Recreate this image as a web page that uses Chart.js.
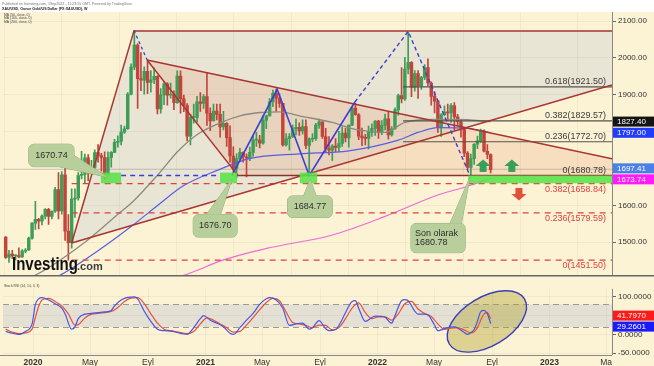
<!DOCTYPE html>
<html>
<head>
<meta charset="utf-8">
<title>XAU/USD haftalık</title>
<script src="https://cdn.jsdelivr.net/npm/chart.js@4.4.1/dist/chart.umd.min.js"></script>
<style>
  html, body { margin: 0; padding: 0; background: #fff; }
  #wrap { position: relative; width: 654px; height: 366px; overflow: hidden; }
  #wrap canvas { position: absolute; left: 0; }
  #main { top: 0; }
  #osc { top: 282px; }
</style>
</head>
<body>
<div id="wrap">
  <canvas id="main" width="654" height="282"></canvas>
  <canvas id="osc" width="654" height="84"></canvas>
</div>
<script>
// Weekly XAU/USD candles, first candle is the week of 2019-11-04
const firstWeek = '2019-11-04';
const opens = [1514,1459,1468,1463,1464,1460,1476,1479,1511,
  1552,1562,1557,1571,1589,1570,1584,1643,1585,1683,1530,1499,
  1617,1620,1681,1684,1729,1700,1703,1743,1735,1730,1685,1730,
  1744,1771,1774,1799,1808,1902,1975,2035,1944,1940,1964,1934,
  1941,1950,1862,1900,1930,1899,1902,1879,1951,1889,1871,1788,
  1839,1839,1881,1877,1895,1850,1829,1856,1847,1813,1823,1784,
  1734,1700,1727,1744,1732,1728,1744,1777,1777,1769,1831,1843,
  1881,1904,1891,1877,1764,1781,1787,1808,1812,1802,1814,1763,
  1780,1781,1818,1827,1787,1754,1750,1761,1757,1768,1796,1783,
  1818,1864,1846,1788,1783,1782,1798,1809,1829,1797,1817,1835,
  1791,1808,1859,1898,1889,1970,1988,1921,1958,1925,1947,1974,
  1932,1896,1883,1811,1846,1853,1851,1871,1840,1827,1811,1742,
  1703,1727,1766,1775,1802,1747,1738];
const highs = [1515,1478,1478,1466,1485,1480,1483,1514,1553,
  1611,1565,1574,1591,1592,1585,1649,1689,1692,1703,1575,1645,
  1645,1689,1747,1739,1738,1722,1751,1765,1741,1745,1745,1746,
  1779,1789,1818,1815,1906,1984,2075,2039,2015,1976,1992,1966,
  1973,1952,1917,1933,1933,1932,1911,1965,1965,1899,1876,1847,
  1875,1896,1906,1901,1959,1865,1875,1875,1875,1855,1825,1816,
  1759,1740,1755,1745,1740,1758,1790,1798,1790,1843,1845,1890,
  1913,1916,1903,1877,1795,1795,1818,1834,1824,1832,1832,1783,
  1795,1823,1834,1827,1809,1787,1765,1781,1801,1814,1810,1818,
  1869,1877,1849,1810,1793,1815,1821,1830,1831,1830,1848,1853,
  1814,1865,1902,1974,2002,2070,1990,1966,1966,1950,1982,1998,
  1935,1909,1884,1849,1870,1875,1876,1879,1847,1831,1812,1746,
  1739,1768,1788,1807,1805,1765,1740];
const lows = [1456,1445,1456,1452,1458,1459,1471,1478,1508,
  1535,1536,1547,1563,1548,1563,1581,1563,1576,1505,1451,1484,
  1567,1614,1672,1659,1667,1683,1690,1717,1693,1670,1682,1704,
  1743,1758,1764,1795,1806,1900,1968,1863,1911,1902,1903,1907,
  1930,1848,1850,1873,1872,1891,1860,1877,1850,1854,1775,1764,
  1823,1826,1855,1863,1817,1803,1829,1832,1785,1805,1760,1717,
  1687,1676,1719,1717,1677,1721,1733,1760,1756,1766,1808,1843,
  1868,1855,1866,1761,1761,1750,1784,1791,1790,1793,1754,1684,
  1772,1776,1809,1782,1745,1737,1721,1746,1746,1760,1772,1758,
  1816,1845,1778,1762,1764,1753,1787,1790,1782,1792,1805,1780,
  1788,1806,1845,1878,1885,1957,1895,1910,1890,1915,1941,1925,
  1872,1851,1798,1787,1843,1829,1825,1805,1816,1785,1732,1698,
  1680,1711,1754,1771,1745,1727,1688];
const closes = [1459,1468,1463,1464,1460,1476,1479,1511,1552,
  1562,1557,1571,1589,1570,1584,1643,1585,1683,1530,1499,1617,
  1620,1681,1684,1729,1700,1703,1743,1735,1730,1685,1730,1744,
  1771,1774,1799,1808,1902,1975,2035,1944,1940,1964,1934,1941,
  1950,1862,1900,1930,1899,1902,1879,1951,1889,1871,1788,1839,
  1839,1881,1877,1895,1850,1829,1856,1847,1813,1823,1784,1734,
  1700,1727,1744,1732,1728,1744,1777,1777,1769,1831,1843,1881,
  1904,1891,1877,1764,1781,1787,1808,1812,1802,1814,1763,1780,
  1781,1818,1827,1787,1754,1750,1761,1757,1768,1796,1783,1818,
  1864,1846,1788,1783,1782,1798,1809,1829,1797,1817,1835,1791,
  1808,1859,1898,1889,1970,1988,1921,1958,1925,1947,1974,1932,
  1896,1883,1811,1846,1853,1851,1871,1840,1827,1811,1742,1703,
  1727,1766,1775,1802,1747,1738,1697];

// moving averages (week index -> price)
const sma50Weeks = [0,9.5,23,33.5,38.5,46.5,52,58.5,64.5,71,77,83,89,99,106,115,121,129,137,147];
const sma50Values = [1385,1413,1493,1572,1610,1687,1745,1795,1822,1843,1852,1854,1843,1825,1806,1798,1825,1833,1833,1827.4];
const sma100Weeks = [10,16.4,28.5,38.5,46.5,53.6,64.7,73.8,88.9,104,119,125,131,140,147];
const sma100Values = [1385,1410,1480,1546,1603,1652,1697,1727,1740,1748,1777,1798,1811,1809,1797];
const sma200Weeks = [45,54,58.7,64.7,80,98.8,115,131,140,147];
const sma200Values = [1385,1410,1426,1448,1485,1519,1570,1628,1652,1673.74];

// Stoch RSI lines (week index -> value)
const kWeeks = [0,2,4,6,8,9,10,11,13,15,17,18,20,21,22,24,26,28,30,32,33,35,37,39,40,42,44,46,48,50,52,54,55,57,59,60,62,64,66,68,69,71,73,75,77,79,80,82,84,86,88,90,92,93,95,97,98,100,102,103,105,106,107,109,111,112,114,115,117,118,120,121,122,124,125,127,128,130,131,132,134,136,137,139,140,141,142,143,144,145,146,147];
const kValues = [8,3,0,8,28,80,95,98,92,82,70,55,14,20,42,54,56,58,60,64,76,92,99,100,95,62,35,14,10,9,5,1,0,18,42,50,38,30,20,3,0,18,38,56,80,95,98,92,70,24,28,30,14,18,37,15,10,13,40,58,88,90,70,35,45,49,48,46,30,50,90,93,90,62,54,54,52,25,10,12,18,20,17,5,0,5,13,35,61,64,55,29.2601];
const dWeeks = [0,2,4,6,8,9,10,11,13,15,17,19,21,22,24,26,28,30,32,34,36,38,40,42,44,46,48,50,52,55,57,59,61,63,65,67,69,71,73,75,77,79,81,83,85,87,89,91,93,95,97,99,101,103,105,107,109,111,113,115,117,119,121,123,125,127,129,131,133,135,137,139,141,142,143,144,145,146,147];
const dValues = [14,6,2,4,14,45,75,92,96,88,76,55,25,26,44,54,56,58,61,72,88,97,98,82,55,30,14,10,7,2,8,28,44,38,28,18,6,8,25,45,66,85,96,90,60,32,28,24,18,25,24,12,18,42,70,84,58,42,47,47,38,55,82,88,68,56,48,28,14,17,18,12,4,7,18,38,55,58,41.797];

// axis ticks
const tickDates = ['2020-01-01','2020-05-01','2020-09-01','2021-01-01','2021-05-01','2021-09-01','2022-01-01','2022-05-01','2022-09-01','2023-01-01','2023-05-01'];
const tickLabels = ['2020','May','Eyl','2021','May','Eyl','2022','May','Eyl','2023','Ma'];
const priceTicks = [1500,1600,1700,1800,1900,2000,2100];
const oscTicks = [-50,0,50,100];

// fib levels
const fibUpper = [1921.50, 1829.57, 1772.70];
const fibUpperNames = ['0.618', '0.382', '0.236'];
const fibZero = 1680.78;
const fibLower = [1658.84, 1579.59, 1451.50];
const fibLowerNames = ['0.382', '0.236', '0'];

// last values shown as tags on the right
const lastPrice = 1697.41;
const lastSma50 = 1827.40, lastSma100 = 1797.00, lastSma200 = 1673.74;
const lastK = 29.2601, lastD = 41.7970;

// ---------------------------------------------------------------------
const DAY0 = Date.UTC(2020, 0, 1);
function dayOf(s) {
  const p = s.split('-');
  return (Date.UTC(+p[0], +p[1] - 1, +p[2]) - DAY0) / 86400000;
}
const weekDay = w => dayOf(firstWeek) + 7 * w;
const tickDays = tickDates.map(dayOf);

const X_MIN = -63.7, X_MAX = 1228.5;
const BG = '#fcf3d5';
const FONT = "'Liberation Sans', Arial, sans-serif";
const RED = '#a93430';
const BLUE = '#3b3fd0';
Chart.defaults.font.family = FONT;

const at = (d, p) => ({ x: dayOf(d), y: p });
const edge = p => ({ x: X_MAX, y: p });
const series = (weeks, vals) => weeks.map((w, i) => ({ x: weekDay(w), y: vals[i] }));

function line(data, color, width, dash, order, smooth) {
  return {
    type: 'line', data, borderColor: color, borderWidth: width, borderDash: dash || [],
    pointRadius: 0, fill: false, tension: 0, order: order == null ? 2 : order,
    cubicInterpolationMode: smooth ? 'monotone' : 'default'
  };
}

// candles
const upColor = '#3e9d57', downColor = '#c2443b';
const candleColors = opens.map((o, i) => closes[i] >= o ? upColor : downColor);
const wickSet = {
  type: 'bar', data: opens.map((o, i) => ({ x: weekDay(i), y: [lows[i], highs[i]] })),
  backgroundColor: candleColors, barThickness: 1, grouped: false, order: 6, borderWidth: 0
};
const bodySet = {
  type: 'bar', data: opens.map((o, i) => ({ x: weekDay(i), y: [o, closes[i]] })),
  backgroundColor: candleColors, barThickness: 2.8, grouped: false, order: 5, borderWidth: 0, minBarLength: 1
};

const mainSets = [
  wickSet, bodySet,
  line([{ x: X_MIN, y: lastPrice }, edge(lastPrice)], 'rgba(110,110,110,0.35)', 0.8, [], 7),
  line(series(sma50Weeks, sma50Values), '#8c8a7c', 1.3, [], 3, true),
  line(series(sma100Weeks, sma100Values), '#5a5ee0', 1.2, [], 3, true),
  line(series(sma200Weeks, sma200Values), '#ee6ad8', 1.2, [], 3, true),
  // trend lines
  line([at('2020-03-23', 1498), at('2020-08-02', 2073)], RED, 1.5),
  line([at('2020-08-02', 2073), edge(2073)], RED, 1.5),
  line([at('2020-03-23', 1498), edge(1926.5)], RED, 1.5),
  line([at('2020-08-30', 1994.7), edge(1726.5)], RED, 1.5),
  line([at('2020-08-30', 1994.7), at('2021-03-11', fibZero)], RED, 1.5),
  line([at('2021-03-07', fibZero), edge(fibZero)], '#8a3428', 1.5),
  // zig-zag
  line([at('2021-02-26', 1681), at('2021-06-02', 1915), at('2021-08-09', 1681), at('2021-11-14', 1880.5)], BLUE, 1.6, [], 1),
  line([at('2021-11-14', 1880.5), at('2022-03-07', 2072), at('2022-07-16', 1681)], BLUE, 1.4, [4, 3], 1),
  line([at('2020-08-02', 2075), at('2020-08-30', 1995)], BLUE, 1.3, [3, 3], 1),
  line([at('2020-07-06', 1681), at('2021-02-01', 1681)], BLUE, 1.4, [5, 4], 1)
];
fibUpper.forEach(v => mainSets.push(line([at('2022-02-24', v), edge(v)], '#56534a', 1.2)));
fibLower.forEach(v => mainSets.push(line([at('2020-03-23', v), edge(v)], '#e0413b', 1.3, [6, 5])));

// annotation layout, in date / price units
const boxes = [
  { from: '2020-05-24', to: '2020-07-06', top: 1689, bottom: 1660 },
  { from: '2021-02-01', to: '2021-03-09', top: 1689, bottom: 1660 },
  { from: '2021-07-20', to: '2021-08-26', top: 1689, bottom: 1660 },
  { from: '2022-07-12', to: null, top: 1681, bottom: 1660 }
];
const callouts = [
  { lines: ['1670.74'], from: '2019-12-23', to: '2020-03-28', top: 1766, bottom: 1705, tip: ['2020-06-08', 1676], base: [[0.68, 1], [1, 0.5]] },
  { lines: ['1676.70'], from: '2020-12-06', to: '2021-03-09', top: 1575, bottom: 1514, tip: ['2021-02-26', 1671], base: [[0.3, 0], [0.62, 0]] },
  { lines: ['1684.77'], from: '2021-06-24', to: '2021-09-27', top: 1625.6, bottom: 1567, tip: ['2021-08-11', 1671], base: [[0.36, 0], [0.64, 0]] },
  { lines: ['Son olarak', '1680.78'], from: '2022-03-13', to: '2022-07-06', top: 1551, bottom: 1471.6, tip: ['2022-07-16', 1676], base: [[0.72, 0], [0.93, 0]], left: true }
];
const arrows = [
  { date: '2022-08-13', price: 1707, up: true },
  { date: '2022-10-13', price: 1707, up: true },
  { date: '2022-10-28', price: 1631, up: false }
];

function px(s, v) { return s.getPixelForValue(v); }

function roundRect(ctx, x, y, w, h, r) {
  ctx.beginPath();
  ctx.moveTo(x + r, y);
  ctx.arcTo(x + w, y, x + w, y + h, r);
  ctx.arcTo(x + w, y + h, x, y + h, r);
  ctx.arcTo(x, y + h, x, y, r);
  ctx.arcTo(x, y, x + w, y, r);
  ctx.closePath();
}

function drawTags(ctx, tags, left, right) {
  const h = 10;
  tags.sort((a, b) => a.y - b.y);
  for (let i = 1; i < tags.length; i++) {
    const gap = tags[i].y - tags[i - 1].y;
    if (gap < h + 1) { const d = (h + 1 - gap) / 2; tags[i - 1].y -= d; tags[i].y += d; }
  }
  ctx.font = '8px ' + FONT;
  ctx.textAlign = 'left';
  ctx.textBaseline = 'middle';
  tags.forEach(t => {
    ctx.fillStyle = t.bg;
    ctx.fillRect(left, t.y - h / 2, right - left, h);
    ctx.fillStyle = '#fff';
    ctx.fillText(t.text, left + 4, t.y + 0.5);
  });
}

const mainDeco = {
  id: 'mainDeco',
  beforeDraw(chart) {
    const { ctx, chartArea: a, scales: { x: xs, y: ys } } = chart;
    ctx.save();
    ctx.fillStyle = '#fff';
    ctx.fillRect(0, 0, chart.width, chart.height);
    ctx.fillStyle = BG;
    ctx.fillRect(0, a.top, chart.width, chart.height - a.top);
    ctx.beginPath();
    ctx.rect(a.left, a.top, a.right - a.left, a.bottom - a.top);
    ctx.clip();
    const poly = (pts, fill) => {
      ctx.beginPath();
      pts.forEach((p, i) => i ? ctx.lineTo(px(xs, p.x), px(ys, p.y)) : ctx.moveTo(px(xs, p.x), px(ys, p.y)));
      ctx.closePath();
      ctx.fillStyle = fill;
      ctx.fill();
    };
    poly([at('2020-03-23', 1498), at('2020-08-02', 2073), edge(2073), edge(1926.5)], 'rgba(205,210,215,0.42)');
    poly([at('2020-08-30', 1994.7), edge(1726.5), edge(fibZero), at('2021-03-11', fibZero)], 'rgba(228,140,100,0.2)');
    ctx.restore();
  },
  afterDatasetsDraw(chart) {
    const { ctx, chartArea: a, scales: { x: xs, y: ys } } = chart;
    ctx.save();

    // green zones
    ctx.fillStyle = 'rgba(88,226,74,0.88)';
    boxes.forEach(b => {
      const l = px(xs, dayOf(b.from)), r = b.to ? px(xs, dayOf(b.to)) : a.right;
      const t = px(ys, b.top), bt = px(ys, b.bottom);
      ctx.fillRect(l, t, r - l, bt - t);
    });

    // fib labels
    ctx.font = '9px ' + FONT;
    ctx.textAlign = 'right';
    ctx.textBaseline = 'bottom';
    ctx.fillStyle = '#3a3a3a';
    fibUpper.forEach((v, i) => ctx.fillText(fibUpperNames[i] + '(' + v.toFixed(2) + ')', a.right - 6, px(ys, v) - 1));
    ctx.fillText('0(' + fibZero.toFixed(2) + ')', a.right - 6, px(ys, fibZero) - 1);
    ctx.textBaseline = 'top';
    ctx.fillStyle = '#e0413b';
    fibLower.forEach((v, i) => ctx.fillText(fibLowerNames[i] + '(' + v.toFixed(2) + ')', a.right - 6, px(ys, v) + 1));

    // callouts
    callouts.forEach(c => {
      const l = px(xs, dayOf(c.from)), r = px(xs, dayOf(c.to));
      const t = px(ys, c.top), b = px(ys, c.bottom);
      const w = r - l, h = b - t;
      const tx = px(xs, dayOf(c.tip[0])), ty = px(ys, c.tip[1]);
      const tail = () => {
        ctx.beginPath();
        ctx.moveTo(l + c.base[0][0] * w, t + c.base[0][1] * h);
        ctx.lineTo(tx, ty);
        ctx.lineTo(l + c.base[1][0] * w, t + c.base[1][1] * h);
        ctx.closePath();
      };
      ctx.strokeStyle = '#8fae78';
      ctx.lineWidth = 1;
      roundRect(ctx, l, t, w, h, 5); ctx.stroke();
      tail(); ctx.stroke();
      ctx.fillStyle = '#b8cf9c';
      roundRect(ctx, l, t, w, h, 5); ctx.fill();
      tail(); ctx.fill();
      ctx.fillStyle = '#2e2e2e';
      ctx.font = '9px ' + FONT;
      ctx.textBaseline = 'middle';
      const lh = 9.5, y0 = t + h / 2 - (c.lines.length - 1) * lh / 2;
      c.lines.forEach((s, i) => {
        if (c.left) { ctx.textAlign = 'left'; ctx.fillText(s, l + 4, y0 + i * lh); }
        else { ctx.textAlign = 'center'; ctx.fillText(s, l + w / 2, y0 + i * lh); }
      });
    });

    // arrows
    arrows.forEach(ar => {
      const cx = px(xs, dayOf(ar.date)), cy = px(ys, ar.price), s = ar.up ? -1 : 1;
      ctx.fillStyle = ar.up ? '#38a05a' : '#e24f3a';
      ctx.beginPath();
      ctx.moveTo(cx - 7.5, cy);
      ctx.lineTo(cx + 7.5, cy);
      ctx.lineTo(cx, cy + s * 6.5);
      ctx.closePath();
      ctx.fill();
      ctx.fillRect(cx - 3.5, s < 0 ? cy - 0.5 : cy - 6, 7, 6.5);
    });

    // Investing.com mark
    ctx.fillStyle = '#111';
    ctx.textAlign = 'left';
    ctx.textBaseline = 'alphabetic';
    ctx.save();
    ctx.translate(12, 270);
    ctx.scale(0.79, 1);
    ctx.font = 'bold 19px ' + FONT;
    ctx.fillText('Investing', 0, 0);
    ctx.restore();
    ctx.fillStyle = '#3d3d3d';
    ctx.font = 'bold 11px ' + FONT;
    ctx.fillText('.com', 77, 270);

    // header and legend
    ctx.fillStyle = '#777';
    ctx.font = '3.6px ' + FONT;
    ctx.fillText('Published on Investing.com, 1Sep2022 - 11:23:55 GMT, Powered by TradingView.', 2, 5);
    ctx.fillStyle = '#222';
    ctx.font = 'bold 3.6px ' + FONT;
    ctx.fillText('XAU/USD, Ounce Gold/US Dollar (FX:XAUUSD), W', 2, 10);
    ctx.font = '3.4px ' + FONT;
    ctx.fillStyle = '#444';
    ['MA (50, close, 0)', 'MA (100, close, 0)', 'MA (200, close, 0)'].forEach((s, i) => ctx.fillText(s, 4, 16 + i * 3.4));

    // pane separator and price axis line
    ctx.strokeStyle = '#666';
    ctx.lineWidth = 1.5;
    ctx.beginPath();
    ctx.moveTo(0, a.bottom + 0.5);
    ctx.lineTo(chart.width, a.bottom + 0.5);
    ctx.stroke();
    ctx.lineWidth = 1;
    ctx.strokeStyle = '#888';
    ctx.beginPath();
    ctx.moveTo(a.right + 0.5, a.top);
    ctx.lineTo(a.right + 0.5, a.bottom);
    ctx.stroke();

    drawTags(ctx, [
      { y: px(ys, lastSma50), text: lastSma50.toFixed(2), bg: '#141414' },
      { y: px(ys, lastSma100), text: lastSma100.toFixed(2), bg: '#1f3cff' },
      { y: px(ys, lastPrice), text: lastPrice.toFixed(2), bg: '#4a80ea' },
      { y: px(ys, lastSma200), text: lastSma200.toFixed(2), bg: '#ff1aff' }
    ], a.right + 1, chart.width);
    ctx.restore();
  }
};

const gridColor = 'rgba(120,110,80,0.07)';

new Chart(document.getElementById('main'), {
  type: 'line',
  data: { datasets: mainSets },
  options: {
    responsive: false, animation: false, devicePixelRatio: 1, events: [],
    layout: { padding: { left: 3, top: 12, right: 0, bottom: 1 } },
    plugins: { legend: { display: false }, tooltip: { enabled: false } },
    scales: {
      x: {
        type: 'linear', min: X_MIN, max: X_MAX, offset: false,
        afterBuildTicks: s => { s.ticks = tickDays.map(v => ({ value: v })); },
        afterFit: s => { s.height = 0; },
        ticks: { display: false },
        grid: { color: gridColor, drawTicks: false },
        border: { display: false }
      },
      y: {
        position: 'right', min: 1410.5, max: 2124.8,
        afterBuildTicks: s => { s.ticks = priceTicks.map(v => ({ value: v })); },
        afterFit: s => { s.width = 42; },
        ticks: { color: '#333', font: { size: 8 }, padding: 2, callback: v => v.toFixed(2) },
        grid: { color: gridColor, tickColor: '#666', tickLength: 4 },
        border: { display: false }
      }
    }
  },
  plugins: [mainDeco]
});

// ---------------- Stoch RSI pane ----------------
const oscDeco = {
  id: 'oscDeco',
  beforeDraw(chart) {
    const { ctx, chartArea: a, scales: { y: ys } } = chart;
    ctx.save();
    ctx.fillStyle = BG;
    ctx.fillRect(0, 0, chart.width, chart.height);
    ctx.fillStyle = 'rgba(200,205,210,0.45)';
    ctx.fillRect(a.left, px(ys, 80), a.right - a.left, px(ys, 20) - px(ys, 80));
    ctx.restore();
  },
  beforeDatasetsDraw(chart) {
    const { ctx, chartArea: a, scales: { x: xs, y: ys } } = chart;
    ctx.save();
    ctx.strokeStyle = '#9a9a94';
    ctx.lineWidth = 1;
    ctx.setLineDash([6, 4]);
    [80, 20].forEach(v => {
      const y = Math.round(px(ys, v)) + 0.5;
      ctx.beginPath(); ctx.moveTo(a.left, y); ctx.lineTo(a.right, y); ctx.stroke();
    });
    ctx.setLineDash([]);
    // ellipse around the last swing
    const cx = px(xs, dayOf('2022-08-21')), cy = px(ys, 34.6);
    const rx = px(xs, dayOf('2022-08-21') + 93) - cx, ry = cy - px(ys, 34.6 + 65);
    ctx.beginPath();
    ctx.ellipse(cx, cy, rx, ry, -0.54, 0, Math.PI * 2);
    ctx.fillStyle = 'rgba(178,165,55,0.42)';
    ctx.fill();
    ctx.strokeStyle = '#3a3fb5';
    ctx.lineWidth = 1.4;
    ctx.stroke();
    ctx.restore();
  },
  afterDatasetsDraw(chart) {
    const { ctx, chartArea: a, scales: { y: ys } } = chart;
    ctx.save();
    ctx.fillStyle = '#444';
    ctx.font = '3.4px ' + FONT;
    ctx.textAlign = 'left';
    ctx.fillText('Stoch RSI (14, 14, 3, 3)', 4, 5);
    ctx.strokeStyle = '#888';
    ctx.lineWidth = 1;
    ctx.beginPath();
    ctx.moveTo(a.right + 0.5, a.top);
    ctx.lineTo(a.right + 0.5, a.bottom);
    ctx.moveTo(0, a.bottom + 0.5);
    ctx.lineTo(a.right, a.bottom + 0.5);
    ctx.stroke();
    drawTags(ctx, [
      { y: px(ys, lastD), text: lastD.toFixed(4), bg: '#ff1a1a' },
      { y: px(ys, lastK), text: lastK.toFixed(4), bg: '#1a1aff' }
    ], a.right + 1, chart.width);
    ctx.restore();
  }
};

new Chart(document.getElementById('osc'), {
  type: 'line',
  data: {
    datasets: [
      line(series(dWeeks, dValues), '#e6533c', 1.2, [], 2, true),
      line(series(kWeeks, kValues), '#4b55e0', 1.2, [], 1, true)
    ]
  },
  options: {
    responsive: false, animation: false, devicePixelRatio: 1, events: [],
    layout: { padding: { left: 3, top: 0, right: 0, bottom: 0 } },
    plugins: { legend: { display: false }, tooltip: { enabled: false } },
    scales: {
      x: {
        type: 'linear', min: X_MIN, max: X_MAX, offset: false,
        afterBuildTicks: s => { s.ticks = tickDays.map(v => ({ value: v })); },
        afterFit: s => { s.height = 11; },
        ticks: {
          autoSkip: false, maxRotation: 0, padding: 3, color: '#333',
          font: c => ({ size: 8.5, weight: /^\d{4}$/.test(tickLabels[c.index]) ? 'bold' : 'normal' }),
          callback: (v, i) => tickLabels[i]
        },
        grid: { color: gridColor, drawTicks: false },
        border: { display: false }
      },
      y: {
        position: 'right', min: -55, max: 121.8,
        afterBuildTicks: s => { s.ticks = oscTicks.map(v => ({ value: v })); },
        afterFit: s => { s.width = 42; },
        ticks: { color: '#333', font: { size: 8 }, padding: 2, callback: v => v.toFixed(4) },
        grid: { color: gridColor, tickColor: '#666', tickLength: 4 },
        border: { display: false }
      }
    }
  },
  plugins: [oscDeco]
});
</script>
</body>
</html>
